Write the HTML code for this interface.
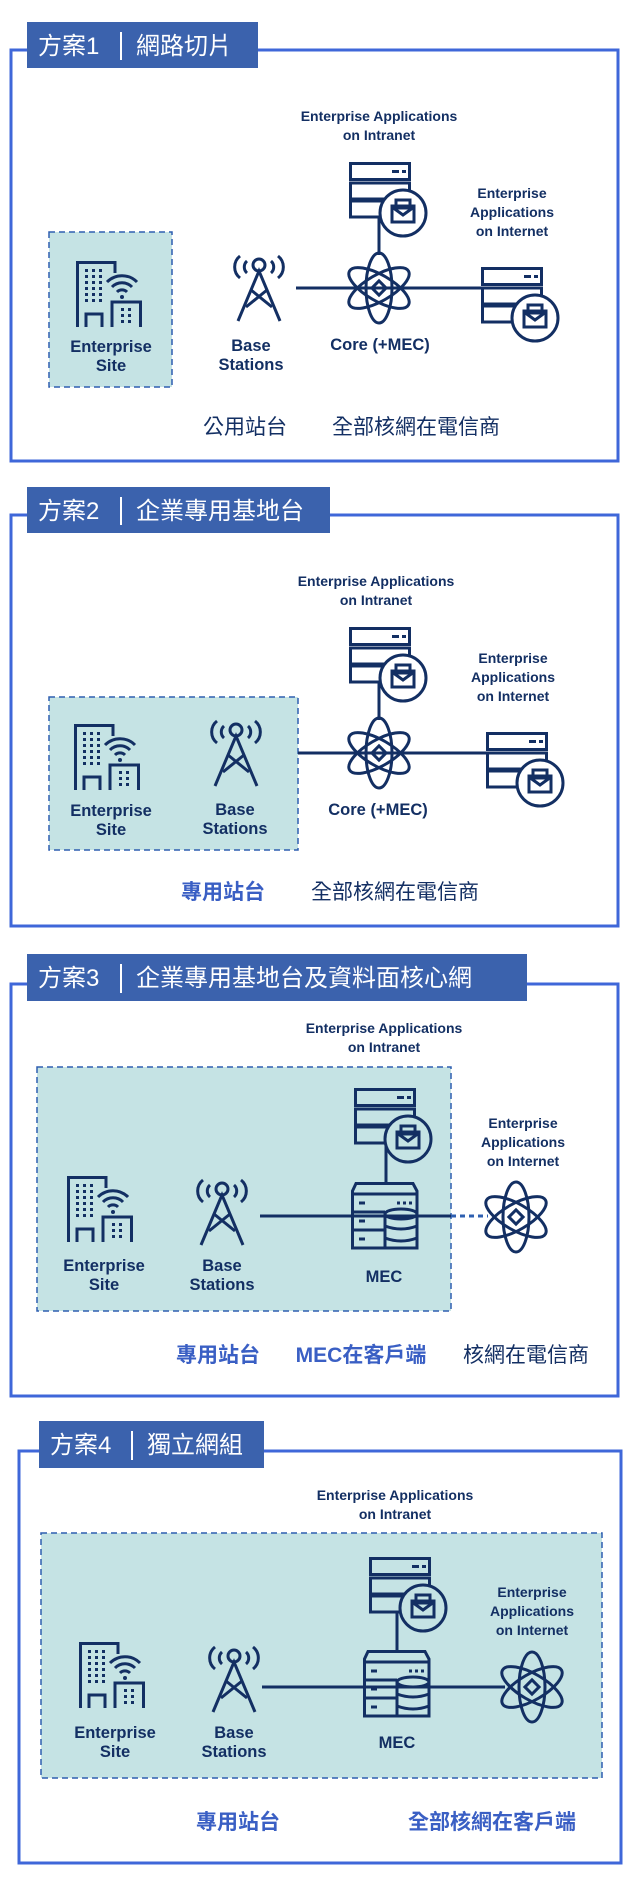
<!DOCTYPE html>
<html><head><meta charset="utf-8"><style>
html,body{margin:0;padding:0;background:#fff}
svg{display:block}
text{font-family:"Liberation Sans","Noto Sans CJK TC",sans-serif;fill:#132f63}
.l{font-size:14px;font-weight:bold;text-anchor:middle}
.n{font-size:16.5px;font-weight:bold;text-anchor:middle}
.h{font-size:24px;fill:#fff;font-family:"Liberation Sans","Noto Sans CJK TC",sans-serif}
.b{font-size:21px;text-anchor:middle;font-family:"Liberation Sans","Noto Sans CJK TC",sans-serif}
.bb{font-size:21px;text-anchor:middle;font-weight:bold;fill:#3a5fc4;font-family:"Liberation Sans","Noto Sans CJK TC",sans-serif}
</style></head><body>
<svg width="629" height="1881" viewBox="0 0 629 1881" xmlns="http://www.w3.org/2000/svg">
<defs>
<g id="srv" stroke="#132f63" stroke-width="3">
  <rect x="1.5" y="1.5" width="59" height="16" fill="none"/>
  <rect x="1.5" y="21" width="59" height="16" fill="none"/>
  <rect x="1.5" y="39" width="59" height="16" fill="none"/>
  <line x1="43" y1="9.5" x2="50" y2="9.5"/><line x1="53" y1="9.5" x2="57" y2="9.5"/>
  <circle cx="54" cy="51" r="23"/>
  <rect x="47" y="38" width="14" height="8" fill="none"/>
  <rect x="43" y="44" width="22" height="16" fill="none"/>
  <polyline points="43,45 54,53 65,45" fill="none"/>
</g>
<g id="atom" stroke="#132f63" stroke-width="3" fill="none">
  <ellipse cx="0" cy="0" rx="13" ry="35"/>
  <ellipse cx="0" cy="0" rx="34" ry="13" transform="rotate(30)"/>
  <ellipse cx="0" cy="0" rx="34" ry="13" transform="rotate(-30)"/>
  <rect x="-5" y="-5" width="10" height="10" transform="rotate(45)"/>
</g>
<g id="tower" stroke="#132f63" stroke-width="3" fill="none">
  <circle cx="0" cy="8" r="6"/>
  <polyline points="-21,64 0,14 21,64"/>
  <line x1="-8" y1="33" x2="13" y2="50"/><line x1="8" y1="33" x2="-13" y2="50"/>
  <path d="M-12 4 A8 8 0 0 0 -12 16"/><path d="M12 4 A8 8 0 0 1 12 16"/>
  <path d="M-19 -1 A14 14 0 0 0 -19 21"/><path d="M19 -1 A14 14 0 0 1 19 21"/>
</g>
<g id="bld" stroke="#132f63" stroke-width="3" fill="none">
  <path d="M1.5 66 V1.5 H39 V12"/>
  <path d="M36 66 V41 H64.5 V66"/>
  <path d="M10 66 V53 H26 V66"/>
  <g fill="#132f63" stroke="none">
    <rect x="9" y="8" width="3" height="3"/><rect x="16" y="8" width="3" height="3"/><rect x="23" y="8" width="3" height="3"/>
    <rect x="9" y="14" width="3" height="3"/><rect x="16" y="14" width="3" height="3"/><rect x="23" y="14" width="3" height="3"/>
    <rect x="9" y="20" width="3" height="3"/><rect x="16" y="20" width="3" height="3"/><rect x="23" y="20" width="3" height="3"/>
    <rect x="9" y="26" width="3" height="3"/><rect x="16" y="26" width="3" height="3"/><rect x="23" y="26" width="3" height="3"/>
    <rect x="9" y="32" width="3" height="3"/><rect x="16" y="32" width="3" height="3"/><rect x="23" y="32" width="3" height="3"/>
    <rect x="9" y="38" width="3" height="3"/><rect x="16" y="38" width="3" height="3"/><rect x="23" y="38" width="3" height="3"/>
    <rect x="45" y="47" width="3" height="3"/><rect x="52" y="47" width="3" height="3"/>
    <rect x="45" y="53" width="3" height="3"/><rect x="52" y="53" width="3" height="3"/>
    <rect x="45" y="59" width="3" height="3"/><rect x="52" y="59" width="3" height="3"/>
    <circle cx="46" cy="36" r="2"/>
  </g>
  <path d="M41 31 A7 7 0 0 1 51 31"/>
  <path d="M36 26 A14 14 0 0 1 56 26"/>
  <path d="M31 21 A21 21 0 0 1 61 21"/>
</g>
<g id="mec" stroke="#132f63" stroke-width="3" fill="none">
  <path d="M5 1.5 H62 L66 9 V66 H1.5 V9 Z"/>
  <line x1="1.5" y1="12" x2="66" y2="12"/>
  <line x1="1.5" y1="30" x2="34" y2="30"/>
  <line x1="1.5" y1="48" x2="34" y2="48"/>
  <line x1="34" y1="30" x2="34" y2="66"/>
  <line x1="8" y1="21" x2="14" y2="21"/><line x1="8" y1="39" x2="14" y2="39"/><line x1="8" y1="57" x2="14" y2="57"/>
  <line x1="46" y1="21" x2="49" y2="21"/><line x1="52" y1="21" x2="55" y2="21"/><line x1="58" y1="21" x2="61" y2="21"/>
  <ellipse cx="50" cy="32" rx="16" ry="5"/>
  <path d="M34 44 Q50 50 66 44"/><path d="M34 56 Q50 62 66 56"/>
</g>
</defs>

<!-- Panel 1 -->
<rect x="11" y="50" width="607" height="411" fill="none" stroke="#3f67d9" stroke-width="3"/>
<rect x="27" y="22" width="231" height="46" fill="#3b62ad"/>
<text class="h" x="38" y="54">方案1</text>
<line x1="121" y1="32" x2="121" y2="60" stroke="#fff" stroke-width="2"/>
<text class="h" x="136" y="54">網路切片</text>
<rect x="49" y="232" width="123" height="155" fill="#c5e3e4" stroke="#2e5fb0" stroke-width="1.5" stroke-dasharray="6,4"/>
<use href="#bld" x="76" y="261"/>
<text class="n" x="111" y="352">Enterprise</text><text class="n" x="111" y="371">Site</text>
<use href="#tower" x="259" y="257"/>
<text class="n" x="251" y="351">Base</text><text class="n" x="251" y="370">Stations</text>
<line x1="296" y1="288" x2="481" y2="288" stroke="#132f63" stroke-width="3"/>
<line x1="379" y1="218" x2="379" y2="255" stroke="#132f63" stroke-width="3"/>
<use href="#srv" x="349" y="162" fill="#fff"/>
<use href="#srv" x="481" y="267" fill="#fff"/>
<use href="#atom" x="379" y="288"/>
<text class="n" x="380" y="350">Core (+MEC)</text>
<text class="l" x="379" y="121">Enterprise Applications</text><text class="l" x="379" y="140">on Intranet</text>
<text class="l" x="512" y="198">Enterprise</text><text class="l" x="512" y="217">Applications</text><text class="l" x="512" y="236">on Internet</text>
<text class="b" x="245" y="434">公用站台</text>
<text class="b" x="416" y="434">全部核網在電信商</text>

<!-- Panel 2 -->
<rect x="11" y="515" width="607" height="411" fill="none" stroke="#3f67d9" stroke-width="3"/>
<rect x="27" y="487" width="303" height="46" fill="#3b62ad"/>
<text class="h" x="38" y="519">方案2</text>
<line x1="121" y1="497" x2="121" y2="525" stroke="#fff" stroke-width="2"/>
<text class="h" x="136" y="519">企業專用基地台</text>
<rect x="49" y="697" width="249" height="153" fill="#c5e3e4" stroke="#2e5fb0" stroke-width="1.5" stroke-dasharray="6,4"/>
<use href="#bld" x="74" y="724"/>
<text class="n" x="111" y="816">Enterprise</text><text class="n" x="111" y="835">Site</text>
<use href="#tower" x="236" y="722"/>
<text class="n" x="235" y="815">Base</text><text class="n" x="235" y="834">Stations</text>
<line x1="298" y1="753" x2="486" y2="753" stroke="#132f63" stroke-width="3"/>
<line x1="379" y1="683" x2="379" y2="720" stroke="#132f63" stroke-width="3"/>
<use href="#srv" x="349" y="627" fill="#fff"/>
<use href="#srv" x="486" y="732" fill="#fff"/>
<use href="#atom" x="379" y="753"/>
<text class="n" x="378" y="815">Core (+MEC)</text>
<text class="l" x="376" y="586">Enterprise Applications</text><text class="l" x="376" y="605">on Intranet</text>
<text class="l" x="513" y="663">Enterprise</text><text class="l" x="513" y="682">Applications</text><text class="l" x="513" y="701">on Internet</text>
<text class="bb" x="223" y="899">專用站台</text>
<text class="b" x="395" y="899">全部核網在電信商</text>

<!-- Panel 3 -->
<rect x="11" y="984" width="607" height="412" fill="none" stroke="#3f67d9" stroke-width="3"/>
<rect x="27" y="954" width="500" height="47" fill="#3b62ad"/>
<text class="h" x="38" y="986">方案3</text>
<line x1="121" y1="964" x2="121" y2="993" stroke="#fff" stroke-width="2"/>
<text class="h" x="136" y="986">企業專用基地台及資料面核心網</text>
<rect x="37" y="1067" width="414" height="244" fill="#c5e3e4" stroke="#2e5fb0" stroke-width="1.5" stroke-dasharray="6,4"/>
<use href="#bld" x="67" y="1176"/>
<text class="n" x="104" y="1271">Enterprise</text><text class="n" x="104" y="1290">Site</text>
<use href="#tower" x="222" y="1181"/>
<text class="n" x="222" y="1271">Base</text><text class="n" x="222" y="1290">Stations</text>
<line x1="260" y1="1216" x2="451" y2="1216" stroke="#132f63" stroke-width="3"/>
<line x1="451" y1="1216" x2="488" y2="1216" stroke="#2e5fb0" stroke-width="3" stroke-dasharray="5,4"/>
<line x1="386" y1="1146" x2="386" y2="1182" stroke="#132f63" stroke-width="3"/>
<use href="#srv" x="354" y="1088" fill="#c5e3e4"/>
<use href="#mec" x="351" y="1182" fill="#c5e3e4"/>
<use href="#atom" x="516" y="1217"/>
<text class="n" x="384" y="1282">MEC</text>
<text class="l" x="384" y="1033">Enterprise Applications</text><text class="l" x="384" y="1052">on Intranet</text>
<text class="l" x="523" y="1128">Enterprise</text><text class="l" x="523" y="1147">Applications</text><text class="l" x="523" y="1166">on Internet</text>
<text class="bb" x="218" y="1362">專用站台</text>
<text class="bb" x="361" y="1362">MEC在客戶端</text>
<text class="b" x="526" y="1362">核網在電信商</text>

<!-- Panel 4 -->
<rect x="19" y="1451" width="602" height="412" fill="none" stroke="#3f67d9" stroke-width="3"/>
<rect x="39" y="1421" width="225" height="47" fill="#3b62ad"/>
<text class="h" x="50" y="1453">方案4</text>
<line x1="132" y1="1431" x2="132" y2="1460" stroke="#fff" stroke-width="2"/>
<text class="h" x="147" y="1453">獨立網組</text>
<rect x="41" y="1533" width="561" height="245" fill="#c5e3e4" stroke="#2e5fb0" stroke-width="1.5" stroke-dasharray="6,4"/>
<use href="#bld" x="79" y="1642"/>
<text class="n" x="115" y="1738">Enterprise</text><text class="n" x="115" y="1757">Site</text>
<use href="#tower" x="234" y="1648"/>
<text class="n" x="234" y="1738">Base</text><text class="n" x="234" y="1757">Stations</text>
<line x1="262" y1="1687" x2="505" y2="1687" stroke="#132f63" stroke-width="3"/>
<line x1="397" y1="1613" x2="397" y2="1650" stroke="#132f63" stroke-width="3"/>
<use href="#srv" x="369" y="1557" fill="#c5e3e4"/>
<use href="#mec" x="363" y="1650" fill="#c5e3e4"/>
<use href="#atom" x="532" y="1687"/>
<text class="n" x="397" y="1748">MEC</text>
<text class="l" x="395" y="1500">Enterprise Applications</text><text class="l" x="395" y="1519">on Intranet</text>
<text class="l" x="532" y="1597">Enterprise</text><text class="l" x="532" y="1616">Applications</text><text class="l" x="532" y="1635">on Internet</text>
<text class="bb" x="238" y="1829">專用站台</text>
<text class="bb" x="492" y="1829">全部核網在客戶端</text>
</svg>
</body></html>
